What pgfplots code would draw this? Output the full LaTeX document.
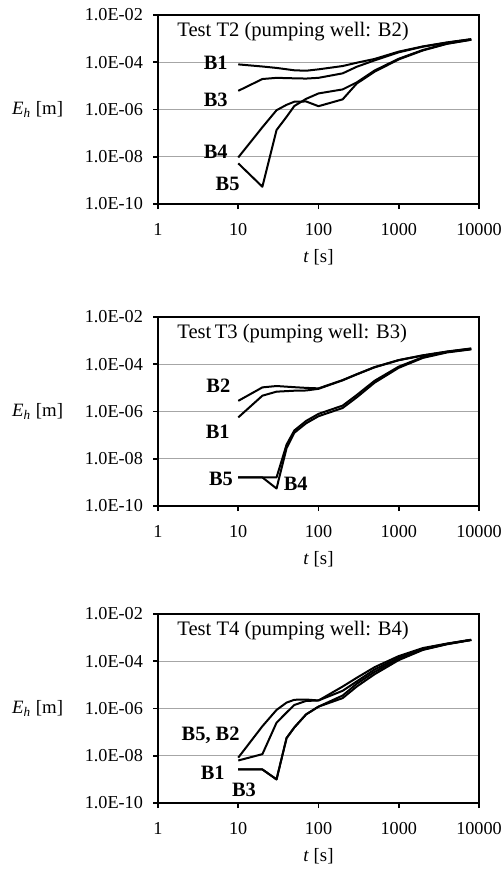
\documentclass[border=0pt]{standalone}
\usepackage{fontspec}
\setmainfont{Liberation Serif}
\usepackage{pgfplots}
\pgfplotsset{compat=1.18}
\pgfplotsset{panel/.style={
  scale only axis, width=160.5pt, height=94.5pt,
  xmin=1, xmax=10000, ymin=1e-10, ymax=1e-2,
  xtick={1,10,100,1000,10000}, xticklabels={1,10,100,1000,10000},
  ytick={1e-10,1e-8,1e-6,1e-4,1e-2},
  yticklabels={1.0E-10,1.0E-08,1.0E-06,1.0E-04,1.0E-02},
  xminorticks=false, yminorticks=false,
  tick align=outside, xtick pos=bottom, ytick pos=left, major tick length=2.5pt,
  ymajorgrids=true, major grid style={draw=black!35, line width=0.7pt},
  axis line style={line width=0.8pt}, tick style={line width=0.8pt, black},
  ticklabel style={font=\fontsize{9.1}{10}\selectfont},
  xticklabel style={yshift=-3.5pt},
  yticklabel style={xshift=-1.5pt},
  label style={font=\fontsize{9.4}{10}\selectfont},
  xlabel={\textit{t} [s]},
  ylabel={\textit{E}\textsubscript{\textit{h}} [m]},
  ylabel style={rotate=-90, anchor=east, at={(ticklabel cs:0.5)}, xshift=-4pt},
}}
\tikzset{cur/.style={black, line width=1pt, line join=round, mark=none},
 blab/.style={font=\bfseries\fontsize{10.2}{12}\selectfont, inner sep=0pt},
 ttl/.style={font=\fontsize{10.3}{12}\selectfont, inner sep=0pt, anchor=west}}
\begin{document}
\begin{tikzpicture}
% ---------------- Panel T2
\begin{loglogaxis}[panel, at={(0,0)}, anchor=north west]
\addplot[cur] coordinates {(10,8.13e-5)(20,6.61e-5)(30,5.75e-5)(50,4.57e-5)(70,4.37e-5)(100,5.01e-5)(200,6.92e-5)(300,9.55e-5)(500,1.38e-4)(1000,2.82e-4)(2000,4.68e-4)(4000,6.92e-4)(8000,9.55e-4)};
\addplot[cur] coordinates {(10,6.17e-6)(20,1.95e-5)(30,2.19e-5)(50,2.09e-5)(70,2.04e-5)(100,2.19e-5)(200,3.39e-5)(300,6.46e-5)(500,1.20e-4)(1000,2.63e-4)(2000,4.57e-4)(4000,6.76e-4)(8000,9.33e-4)};
\addplot[cur] coordinates {(10,9.33e-9)(20,1.78e-7)(30,9.33e-7)(40,1.58e-6)(50,2.14e-6)(70,2.19e-6)(100,1.38e-6)(200,2.69e-6)(300,1.26e-5)(500,3.98e-5)(1000,1.32e-4)(2000,3.16e-4)(4000,6.03e-4)(8000,8.91e-4)};
\addplot[cur] coordinates {(10,5.25e-9)(20,5.37e-10)(30,1.35e-7)(40,4.90e-7)(50,1.41e-6)(70,2.82e-6)(100,4.79e-6)(200,7.08e-6)(300,1.41e-5)(500,4.47e-5)(1000,1.41e-4)(2000,3.31e-4)(4000,6.17e-4)(8000,9.12e-4)};
\node[ttl] at (rel axis cs:0.059,0.91) {Test T2 (pumping well: B2)};
\node[blab, anchor=east] at (axis cs:7.45,9.3e-5) {B1};
\node[blab, anchor=east] at (axis cs:7.45,2.5e-6) {B3};
\node[blab, anchor=east] at (axis cs:7.45,1.62e-8) {B4};
\node[blab, anchor=east] at (axis cs:10.5,7.4e-10) {B5};
\end{loglogaxis}
% ---------------- Panel T3
\begin{loglogaxis}[panel, at={(0,-151pt)}, anchor=north west]
\addplot[cur] coordinates {(10,2.82e-6)(20,1.05e-5)(30,1.20e-5)(50,1.07e-5)(70,1.0e-5)(100,9.55e-6)(200,2.14e-5)(300,3.80e-5)(500,7.59e-5)(1000,1.51e-4)(2000,2.40e-4)(4000,3.47e-4)(8000,4.68e-4)};
\addplot[cur] coordinates {(10,5.62e-7)(20,4.68e-6)(30,6.92e-6)(50,7.59e-6)(70,7.76e-6)(100,9.12e-6)(200,2.09e-5)(300,3.72e-5)(500,7.41e-5)(1000,1.48e-4)(2000,2.34e-4)(4000,3.39e-4)(8000,4.57e-4)};
\addplot[cur] coordinates {(10,1.62e-9)(20,1.62e-9)(30,5.50e-10)(40,2.82e-8)(50,1.26e-7)(70,3.16e-7)(100,6.31e-7)(200,1.41e-6)(300,3.98e-6)(500,1.66e-5)(1000,7.08e-5)(2000,1.86e-4)(4000,3.16e-4)(8000,4.27e-4)};
\addplot[cur] coordinates {(10,1.62e-9)(20,1.62e-9)(30,1.62e-9)(40,3.98e-8)(50,1.58e-7)(70,3.98e-7)(100,7.94e-7)(200,1.78e-6)(300,5.01e-6)(500,2.0e-5)(1000,7.94e-5)(2000,2.0e-4)(4000,3.31e-4)(8000,4.37e-4)};
\node[ttl] at (rel axis cs:0.059,0.91) {Test\,T3 (pumping well: B3)};
\node[blab, anchor=east] at (axis cs:8.05,1.2e-5) {B2};
\node[blab, anchor=east] at (axis cs:7.9,1.38e-7) {B1};
\node[blab, anchor=east] at (axis cs:8.68,1.38e-9) {B5};
\node[blab, anchor=west] at (axis cs:36.5,8.3e-10) {B4};
\end{loglogaxis}
% ---------------- Panel T4
\begin{loglogaxis}[panel, at={(0,-299.5pt)}, anchor=north west]
\addplot[cur] coordinates {(10,8.32e-9)(20,1.78e-7)(30,8.71e-7)(40,1.78e-6)(50,2.34e-6)(70,2.40e-6)(100,2.19e-6)(200,8.51e-6)(300,2.0e-5)(500,5.62e-5)(1000,1.66e-4)(2000,3.63e-4)(4000,5.62e-4)(8000,8.13e-4)};
\addplot[cur] coordinates {(10,6.31e-9)(20,1.17e-8)(30,2.51e-7)(40,6.76e-7)(50,1.41e-6)(70,2.09e-6)(100,2.19e-6)(200,5.62e-6)(300,1.41e-5)(500,4.47e-5)(1000,1.41e-4)(2000,3.39e-4)(4000,5.50e-4)(8000,8.13e-4)};
\addplot[cur] coordinates {(10,2.63e-9)(20,2.63e-9)(30,1.0e-9)(40,5.62e-8)(50,1.58e-7)(70,5.62e-7)(100,1.20e-6)(200,2.75e-6)(300,8.51e-6)(500,2.82e-5)(1000,1.12e-4)(2000,3.02e-4)(4000,5.25e-4)(8000,7.94e-4)};
\addplot[cur] coordinates {(10,2.63e-9)(20,2.63e-9)(30,1.0e-9)(40,5.62e-8)(50,1.58e-7)(70,5.62e-7)(100,1.20e-6)(200,3.55e-6)(300,1.12e-5)(500,3.55e-5)(1000,1.26e-4)(2000,3.16e-4)(4000,5.37e-4)(8000,7.94e-4)};
\node[ttl] at (rel axis cs:0.059,0.91) {Test T4 (pumping well: B4)};
\node[blab, anchor=east] at (axis cs:10.5,7.4e-8) {B5, B2};
\node[blab, anchor=east] at (axis cs:6.84,1.82e-9) {B1};
\node[blab, anchor=west] at (axis cs:8.28,3.47e-10) {B3};
\end{loglogaxis}
\pgfresetboundingbox
\path[use as bounding box] (-79pt,7.5pt) rectangle (172pt,-428.5pt);
\end{tikzpicture}
\end{document}
